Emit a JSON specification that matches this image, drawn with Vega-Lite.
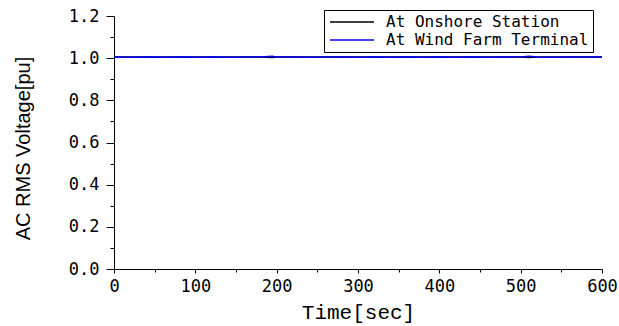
{
  "$schema": "https://vega.github.io/schema/vega-lite/v6.json",
  "autosize": {"type": "none"},
  "padding": {"left": 114, "top": 16, "right": 17, "bottom": 57},
  "width": 488,
  "height": 253,
  "background": "white",
  "config": {
    "view": {"stroke": null},
    "axis": {"domainColor": "#000", "tickColor": "#000", "labelColor": "#000", "titleColor": "#000", "grid": false}
  },
  "data": {
    "values": [
      {"t": 0, "s": "At Onshore Station", "v": 1.006}, {"t": 0, "s": "At Wind Farm Terminal", "v": 1.005},
      {"t": 20, "s": "At Onshore Station", "v": 1.006}, {"t": 20, "s": "At Wind Farm Terminal", "v": 1.004},
      {"t": 40, "s": "At Onshore Station", "v": 1.006}, {"t": 40, "s": "At Wind Farm Terminal", "v": 1.006},
      {"t": 60, "s": "At Onshore Station", "v": 1.006}, {"t": 60, "s": "At Wind Farm Terminal", "v": 1.004},
      {"t": 80, "s": "At Onshore Station", "v": 1.006}, {"t": 80, "s": "At Wind Farm Terminal", "v": 1.005},
      {"t": 100, "s": "At Onshore Station", "v": 1.006}, {"t": 100, "s": "At Wind Farm Terminal", "v": 1.004},
      {"t": 120, "s": "At Onshore Station", "v": 1.006}, {"t": 120, "s": "At Wind Farm Terminal", "v": 1.005},
      {"t": 140, "s": "At Onshore Station", "v": 1.006}, {"t": 140, "s": "At Wind Farm Terminal", "v": 1.004},
      {"t": 160, "s": "At Onshore Station", "v": 1.006}, {"t": 160, "s": "At Wind Farm Terminal", "v": 1.005},
      {"t": 180, "s": "At Onshore Station", "v": 1.006}, {"t": 180, "s": "At Wind Farm Terminal", "v": 1.005},
      {"t": 195, "s": "At Onshore Station", "v": 1.003}, {"t": 195, "s": "At Wind Farm Terminal", "v": 1.009},
      {"t": 200, "s": "At Onshore Station", "v": 1.006}, {"t": 200, "s": "At Wind Farm Terminal", "v": 1.005},
      {"t": 220, "s": "At Onshore Station", "v": 1.006}, {"t": 220, "s": "At Wind Farm Terminal", "v": 1.006},
      {"t": 240, "s": "At Onshore Station", "v": 1.006}, {"t": 240, "s": "At Wind Farm Terminal", "v": 1.004},
      {"t": 260, "s": "At Onshore Station", "v": 1.006}, {"t": 260, "s": "At Wind Farm Terminal", "v": 1.005},
      {"t": 280, "s": "At Onshore Station", "v": 1.006}, {"t": 280, "s": "At Wind Farm Terminal", "v": 1.006},
      {"t": 300, "s": "At Onshore Station", "v": 1.006}, {"t": 300, "s": "At Wind Farm Terminal", "v": 1.004},
      {"t": 320, "s": "At Onshore Station", "v": 1.006}, {"t": 320, "s": "At Wind Farm Terminal", "v": 1.005},
      {"t": 340, "s": "At Onshore Station", "v": 1.006}, {"t": 340, "s": "At Wind Farm Terminal", "v": 1.004},
      {"t": 360, "s": "At Onshore Station", "v": 1.006}, {"t": 360, "s": "At Wind Farm Terminal", "v": 1.005},
      {"t": 380, "s": "At Onshore Station", "v": 1.006}, {"t": 380, "s": "At Wind Farm Terminal", "v": 1.004},
      {"t": 400, "s": "At Onshore Station", "v": 1.006}, {"t": 400, "s": "At Wind Farm Terminal", "v": 1.005},
      {"t": 420, "s": "At Onshore Station", "v": 1.006}, {"t": 420, "s": "At Wind Farm Terminal", "v": 1.004},
      {"t": 440, "s": "At Onshore Station", "v": 1.006}, {"t": 440, "s": "At Wind Farm Terminal", "v": 1.005},
      {"t": 460, "s": "At Onshore Station", "v": 1.006}, {"t": 460, "s": "At Wind Farm Terminal", "v": 1.004},
      {"t": 480, "s": "At Onshore Station", "v": 1.006}, {"t": 480, "s": "At Wind Farm Terminal", "v": 1.005},
      {"t": 500, "s": "At Onshore Station", "v": 1.006}, {"t": 500, "s": "At Wind Farm Terminal", "v": 1.005},
      {"t": 510, "s": "At Onshore Station", "v": 1.003}, {"t": 510, "s": "At Wind Farm Terminal", "v": 1.009},
      {"t": 520, "s": "At Onshore Station", "v": 1.006}, {"t": 520, "s": "At Wind Farm Terminal", "v": 1.005},
      {"t": 540, "s": "At Onshore Station", "v": 1.006}, {"t": 540, "s": "At Wind Farm Terminal", "v": 1.004},
      {"t": 560, "s": "At Onshore Station", "v": 1.006}, {"t": 560, "s": "At Wind Farm Terminal", "v": 1.005},
      {"t": 580, "s": "At Onshore Station", "v": 1.006}, {"t": 580, "s": "At Wind Farm Terminal", "v": 1.006},
      {"t": 600, "s": "At Onshore Station", "v": 1.006}, {"t": 600, "s": "At Wind Farm Terminal", "v": 1.005}
    ]
  },
  "mark": {"type": "line", "strokeWidth": 1.5, "clip": true},
  "encoding": {
    "x": {
      "field": "t", "type": "quantitative",
      "scale": {"domain": [0, 600], "nice": false},
      "axis": {
        "values": [0, 50, 100, 150, 200, 250, 300, 350, 400, 450, 500, 550, 600],
        "labelExpr": "datum.value % 100 === 0 ? datum.label : ''",
        "tickSize": {"condition": {"test": "datum.value % 100 === 0", "value": 4}, "value": 3},
        "labelFont": "DejaVu Sans Mono", "labelFontSize": 17, "labelPadding": 5,
        "labelFlush": false, "labelOverlap": false,
        "title": "Time[sec]", "titleFont": "Liberation Mono", "titleFontSize": 21, "titleFontWeight": "normal",
        "titleX": 244, "titleY": 43, "titleBaseline": "middle", "titleAlign": "center"
      }
    },
    "y": {
      "field": "v", "type": "quantitative",
      "scale": {"domain": [0, 1.2], "nice": false, "zero": false},
      "axis": {
        "values": [0, 0.1, 0.2, 0.3, 0.4, 0.5, 0.6, 0.7, 0.8, 0.9, 1.0, 1.1, 1.2],
        "labelExpr": "round(datum.value*10) % 2 === 0 ? format(datum.value, '.1f') : ''",
        "tickSize": {"condition": {"test": "round(datum.value*10) % 2 === 0", "value": 8}, "value": 4},
        "labelFont": "DejaVu Sans Mono", "labelFontSize": 17, "labelPadding": 7,
        "labelFlush": false, "labelOverlap": false,
        "title": "AC RMS Voltage[pu]", "titleFont": "Liberation Sans", "titleFontSize": 20, "titleFontWeight": "normal",
        "titleX": -91, "titleY": 132, "titleBaseline": "middle", "titleAlign": "center", "titleAngle": -90
      }
    },
    "color": {
      "field": "s", "type": "nominal",
      "scale": {"domain": ["At Onshore Station", "At Wind Farm Terminal"], "range": ["#000000", "#0000ff"]},
      "legend": {
        "title": null, "orient": "none", "legendX": 210, "legendY": -6,
        "strokeColor": "#000", "padding": 4, "fillColor": "white",
        "symbolType": "M-4,0H4", "symbolSize": 121, "symbolStrokeWidth": 1.5, "symbolOffset": 16,
        "labelFont": "DejaVu Sans Mono", "labelFontSize": 16, "labelOffset": 26, "rowPadding": 2,
        "labelLimit": 400, "labelColor": "#000"
      }
    }
  }
}
